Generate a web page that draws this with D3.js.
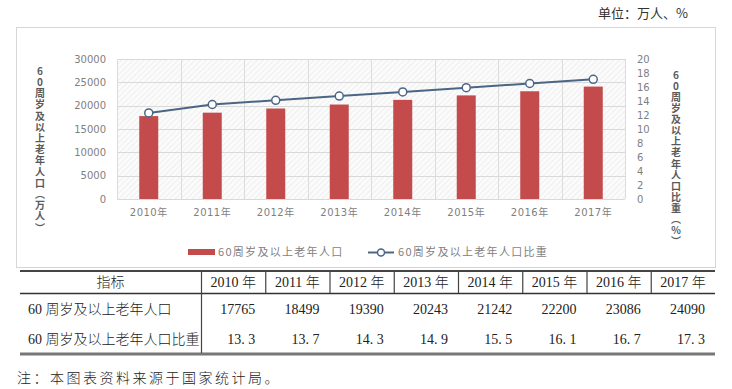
<!DOCTYPE html>
<html>
<head>
<meta charset="utf-8">
<script src="https://cdn.jsdelivr.net/npm/d3@7/dist/d3.min.js"></script>
<style>
  body { margin: 0; background: #fff; }
  svg { display: block; }
  .vtitle { writing-mode: vertical-rl; text-orientation: upright; }
</style>
</head>
<body>
<svg width="732" height="389"></svg>
<script>
var years = ["2010", "2011", "2012", "2013", "2014", "2015", "2016", "2017"];
var population = [17765, 18499, 19390, 20243, 21242, 22200, 23086, 24090];
var ratio = [13.3, 13.7, 14.3, 14.9, 15.5, 16.1, 16.7, 17.3];
// line as it is drawn in the chart
var ratioPlotted = [12.3, 13.5, 14.1, 14.7, 15.3, 15.9, 16.5, 17.1];
var leftTicks = [0, 5000, 10000, 15000, 20000, 25000, 30000];
var rightTicks = [0, 2, 4, 6, 8, 10, 12, 14, 16, 18, 20];
var barName = "60周岁及以上老年人口";
var lineName = "60周岁及以上老年人口比重";
var leftTitle = "60周岁及以上老年人口（万人）";
var rightTitle = "60周岁及以上老年人口比重（%）";

var svg = d3.select("svg");
var cjk = "'Noto Sans CJK SC', sans-serif";
var axisFont = "'DejaVu Sans', 'Noto Sans CJK SC', sans-serif";
var tableFont = "'Liberation Serif', 'Noto Sans CJK SC', serif";

// hatch pattern for the plot background
var defs = svg.append("defs");
var pat = defs.append("pattern")
    .attr("id", "hatch")
    .attr("patternUnits", "userSpaceOnUse")
    .attr("width", 4).attr("height", 4)
    .attr("patternTransform", "rotate(45)");
pat.append("rect").attr("width", 4).attr("height", 4).attr("fill", "#fbfbfb");
pat.append("line").attr("x1", 0).attr("y1", 0).attr("x2", 0).attr("y2", 4)
    .attr("stroke", "#e4e4e4").attr("stroke-width", 1);

// unit label
svg.append("text")
    .attr("x", 688).attr("y", 18)
    .attr("text-anchor", "end")
    .attr("font-family", cjk)
    .attr("font-size", 13)
    .attr("fill", "#333")
    .text("单位：万人、%");

// chart frame
svg.append("rect")
    .attr("x", 16.5).attr("y", 27.5)
    .attr("width", 699).attr("height", 240)
    .attr("fill", "#fff")
    .attr("stroke", "#d6d6d6");

var plot = { left: 117, right: 625, top: 59, bottom: 199 };

var x = d3.scaleBand().domain(years).range([plot.left, plot.right]);
var yL = d3.scaleLinear().domain([0, 30000]).range([plot.bottom, plot.top]);
var yR = d3.scaleLinear().domain([0, 20]).range([plot.bottom, plot.top]);

svg.append("rect")
    .attr("x", plot.left).attr("y", plot.top)
    .attr("width", plot.right - plot.left).attr("height", plot.bottom - plot.top)
    .attr("fill", "url(#hatch)");

// gridlines
svg.append("g").selectAll("line")
    .data(leftTicks)
    .enter().append("line")
    .attr("x1", plot.left).attr("x2", plot.right)
    .attr("y1", function(d) { return Math.round(yL(d)) + 0.5; })
    .attr("y2", function(d) { return Math.round(yL(d)) + 0.5; })
    .attr("stroke", "#d9d9d9");

svg.append("g").selectAll("line")
    .data(years.concat(["end"]))
    .enter().append("line")
    .attr("x1", function(d, i) { return Math.round(plot.left + i * x.step()) + 0.5; })
    .attr("x2", function(d, i) { return Math.round(plot.left + i * x.step()) + 0.5; })
    .attr("y1", plot.top).attr("y2", plot.bottom)
    .attr("stroke", "#dcdcdc");

// left axis
var gl = svg.append("g")
    .attr("transform", "translate(" + (plot.left - 11) + ",0)")
    .call(d3.axisLeft(yL).tickValues(leftTicks).tickFormat(d3.format("d")).tickSize(0).tickPadding(0));
gl.select(".domain").remove();
gl.selectAll("text")
    .attr("font-family", axisFont).attr("font-size", 10).attr("fill", "#7f7f7f");

// right axis
var gr = svg.append("g")
    .attr("transform", "translate(" + (plot.right + 12) + ",0)")
    .call(d3.axisRight(yR).tickValues(rightTicks).tickFormat(d3.format("d")).tickSize(0).tickPadding(0));
gr.select(".domain").remove();
gr.selectAll("text")
    .attr("font-family", axisFont).attr("font-size", 10).attr("fill", "#7f7f7f");

// x labels
svg.append("g").selectAll("text")
    .data(years)
    .enter().append("text")
    .attr("x", function(d) { return x(d) + x.bandwidth() / 2; })
    .attr("y", 216)
    .attr("text-anchor", "middle")
    .attr("font-family", axisFont).attr("font-size", 10)
    .attr("letter-spacing", 0.5)
    .attr("fill", "#7f7f7f")
    .text(function(d) { return d + "年"; });

// bars
var barW = 19;
svg.append("g").selectAll("rect")
    .data(population)
    .enter().append("rect")
    .attr("x", function(d, i) { return x(years[i]) + (x.bandwidth() - barW) / 2; })
    .attr("y", function(d) { return yL(d); })
    .attr("width", barW)
    .attr("height", function(d) { return yL(0) - yL(d); })
    .attr("fill", "#c44b4b");

// line
var lineColor = "#4b6685";
var line = d3.line()
    .x(function(d, i) { return x(years[i]) + x.bandwidth() / 2; })
    .y(function(d) { return yR(d); });
svg.append("path")
    .datum(ratioPlotted)
    .attr("d", line)
    .attr("fill", "none")
    .attr("stroke", lineColor)
    .attr("stroke-width", 2);
svg.append("g").selectAll("circle")
    .data(ratioPlotted)
    .enter().append("circle")
    .attr("cx", function(d, i) { return x(years[i]) + x.bandwidth() / 2; })
    .attr("cy", function(d) { return yR(d); })
    .attr("r", 4)
    .attr("fill", "#fff")
    .attr("stroke", lineColor)
    .attr("stroke-width", 1.5);

// vertical axis titles, upright characters top to bottom
function verticalTitle(str, cx, y0, spacing) {
    svg.append("text")
        .attr("class", "vtitle")
        .attr("x", cx)
        .attr("y", y0)
        .attr("letter-spacing", spacing)
        .attr("font-family", cjk)
        .attr("font-size", 10)
        .attr("font-weight", "bold")
        .attr("fill", "#5a5a5a")
        .text(str);
}
verticalTitle(leftTitle, 40, 66, 1.2);
verticalTitle(rightTitle, 676, 70, 1.1);

// legend
var lg = svg.append("g").attr("font-family", cjk).attr("font-size", 11).attr("fill", "#7f7f7f");
lg.append("rect").attr("x", 188).attr("y", 249).attr("width", 27).attr("height", 6).attr("fill", "#c44b4b");
lg.append("text").attr("x", 218).attr("y", 252).attr("dy", "0.35em")
    .attr("letter-spacing", 1.3).text(barName);
lg.append("line").attr("x1", 368).attr("x2", 394).attr("y1", 252.5).attr("y2", 252.5)
    .attr("stroke", lineColor).attr("stroke-width", 2);
lg.append("circle").attr("cx", 381).attr("cy", 252.5).attr("r", 3.5)
    .attr("fill", "#fff").attr("stroke", lineColor).attr("stroke-width", 1.5);
lg.append("text").attr("x", 398).attr("y", 252).attr("dy", "0.35em")
    .attr("letter-spacing", 1.3).text(lineName);

// data table
var tLeft = 20, tRight = 715, col0 = 201, colW = (tRight - col0) / years.length;
var tbl = svg.append("g").attr("font-family", tableFont).attr("font-size", 14)
    .attr("font-weight", 300).attr("fill", "#222");

tbl.append("line").attr("x1", tLeft).attr("x2", tRight).attr("y1", 271).attr("y2", 271)
    .attr("stroke", "#444").attr("stroke-width", 2);
tbl.append("line").attr("x1", tLeft).attr("x2", tRight).attr("y1", 293.5).attr("y2", 293.5)
    .attr("stroke", "#333").attr("stroke-width", 1.3);
tbl.append("line").attr("x1", tLeft).attr("x2", tRight).attr("y1", 354).attr("y2", 354)
    .attr("stroke", "#777").attr("stroke-width", 3);
tbl.append("line").attr("x1", col0 + 0.5).attr("x2", col0 + 0.5).attr("y1", 271).attr("y2", 353)
    .attr("stroke", "#444").attr("stroke-width", 1.2);
tbl.selectAll("line.sep")
    .data(years.slice(1))
    .enter().append("line")
    .attr("class", "sep")
    .attr("x1", function(d, i) { return col0 + (i + 1) * colW + 0.5; })
    .attr("x2", function(d, i) { return col0 + (i + 1) * colW + 0.5; })
    .attr("y1", 271).attr("y2", 293)
    .attr("stroke", "#444").attr("stroke-width", 1.2);

tbl.append("text").attr("x", (tLeft + col0) / 2).attr("y", 282).attr("dy", "0.35em")
    .attr("text-anchor", "middle").text("指标");
tbl.selectAll("text.yr")
    .data(years)
    .enter().append("text")
    .attr("class", "yr")
    .attr("x", function(d, i) { return col0 + (i + 0.5) * colW; })
    .attr("y", 282).attr("dy", "0.35em")
    .attr("text-anchor", "middle")
    .text(function(d) { return d + " 年"; });

tbl.append("text").attr("x", 28).attr("y", 309).attr("dy", "0.35em").text("60 " + barName.slice(2));
tbl.append("text").attr("x", 28).attr("y", 339).attr("dy", "0.35em").text("60 " + lineName.slice(2));

tbl.selectAll("text.pop")
    .data(population)
    .enter().append("text")
    .attr("class", "pop")
    .attr("x", function(d, i) { return col0 + (i + 1) * colW - 10; })
    .attr("y", 309).attr("dy", "0.35em")
    .attr("text-anchor", "end")
    .text(function(d) { return d; });
tbl.selectAll("text.rat")
    .data(ratio)
    .enter().append("text")
    .attr("class", "rat")
    .attr("x", function(d, i) { return col0 + (i + 1) * colW - 10; })
    .attr("y", 339).attr("dy", "0.35em")
    .attr("text-anchor", "end")
    .text(function(d) { return d.toFixed(1).replace(".", ". "); });

// footnote
svg.append("text")
    .attr("x", 17).attr("y", 378).attr("dy", "0.35em")
    .attr("font-family", cjk).attr("font-size", 14)
    .attr("font-weight", 300)
    .attr("letter-spacing", 2.5)
    .attr("fill", "#222")
    .text("注：本图表资料来源于国家统计局。");
</script>
</body>
</html>
